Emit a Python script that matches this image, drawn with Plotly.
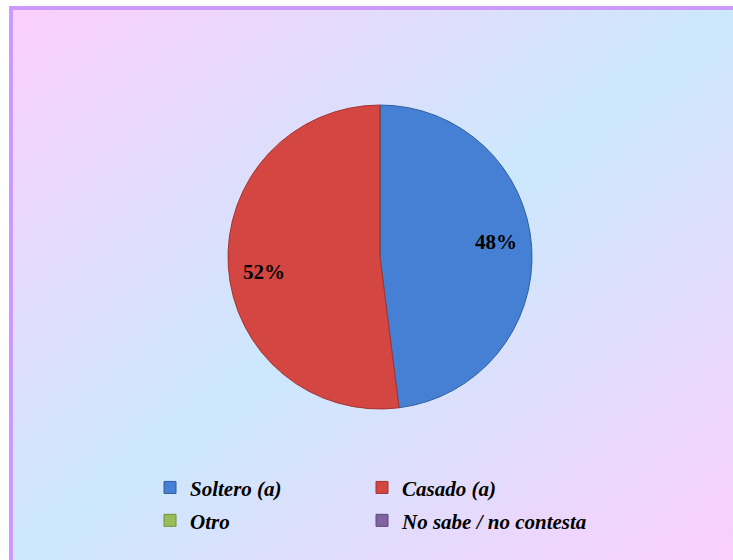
import base64
import plotly.graph_objects as go

# ---- data ----
labels = ["Soltero (a)", "Casado (a)", "Otro", "No sabe / no contesta"]
values = [48, 52, 0, 0]
colors = ["#4680D4", "#D44641", "#9BBB59", "#8064A2"]
edge_colors = ["#2F5F9E", "#A33330", "#76923C", "#5F497A"]

W, H = 733, 560
ML, MR, MT, MB = 120, 120, 0, 0
GW, GH = W - ML - MR, H - MT - MB

SERIF = "Liberation Serif"


def X(px):
    return (px - ML) / GW


def Y(py):
    return 1 - (py - MT) / GH


# background gradient as svg image
svg = f'''<svg xmlns="http://www.w3.org/2000/svg" width="{W}" height="{H}" viewBox="0 0 {W} {H}" preserveAspectRatio="none">
<defs><linearGradient id="g" x1="0" y1="0" x2="1" y2="1">
<stop offset="0" stop-color="#FCCEFC"/>
<stop offset="0.5" stop-color="#CCE8FC"/>
<stop offset="1" stop-color="#FCCEFC"/>
</linearGradient></defs>
<rect x="0" y="0" width="{W}" height="{H}" fill="#ffffff"/>
<rect x="9" y="6" width="{W}" height="{H}" fill="url(#g)"/>
</svg>'''
src = "data:image/svg+xml;base64," + base64.b64encode(svg.encode()).decode()

legend_labels = [f"<span style='font-size:21px'>{l}</span>" for l in labels]

pie_domain = dict(x=[X(228), X(532)], y=[Y(409), Y(105)])

fig = go.Figure()
# main pie (colours + legend)
fig.add_trace(go.Pie(
    labels=legend_labels,
    values=values,
    sort=False,
    direction="clockwise",
    rotation=0,
    marker=dict(colors=colors, line=dict(color=edge_colors, width=1)),
    textinfo="none",
    domain=pie_domain,
    hoverinfo="label+percent",
))
# transparent ring overlay carrying the percentage labels
fig.add_trace(go.Pie(
    labels=labels,
    values=values,
    sort=False,
    direction="clockwise",
    rotation=-4,
    hole=0.54,
    marker=dict(colors=["rgba(0,0,0,0)"] * len(values),
                line=dict(width=0)),
    texttemplate="%{percent:.0%}",
    textposition="inside",
    insidetextorientation="horizontal",
    textfont=dict(family=SERIF, size=21, color="black", weight="bold"),
    domain=pie_domain,
    showlegend=False,
    hoverinfo="skip",
))

fig.add_layout_image(dict(
    source=src, xref="paper", yref="paper",
    x=X(0), y=Y(0), sizex=W / GW, sizey=H / GH,
    xanchor="left", yanchor="top", sizing="stretch", layer="below",
))

fig.add_shape(type="rect", xref="paper", yref="paper",
              x0=X(11), y0=Y(8), x1=X(W + 20), y1=Y(H + 20),
              line=dict(color="#CC99FC", width=4), fillcolor="rgba(0,0,0,0)",
              layer="below")

fig.update_layout(
    width=W, height=H,
    margin=dict(l=ML, r=MR, t=MT, b=MB),
    paper_bgcolor="rgba(0,0,0,0)",
    plot_bgcolor="rgba(0,0,0,0)",
    showlegend=True,
    legend=dict(
        orientation="h",
        x=X(150), y=Y(453), xanchor="left", yanchor="top",
        entrywidth=167, entrywidthmode="pixels",
        font=dict(family=SERIF, size=23, color="black",
                  weight="bold", style="italic"),
        title=dict(text="\u00a0" * 200, side="top",
                   font=dict(size=10, color="rgba(0,0,0,0)")),
        bgcolor="rgba(0,0,0,0)",
        traceorder="normal",
    ),
)

fig.write_html("out.html")
